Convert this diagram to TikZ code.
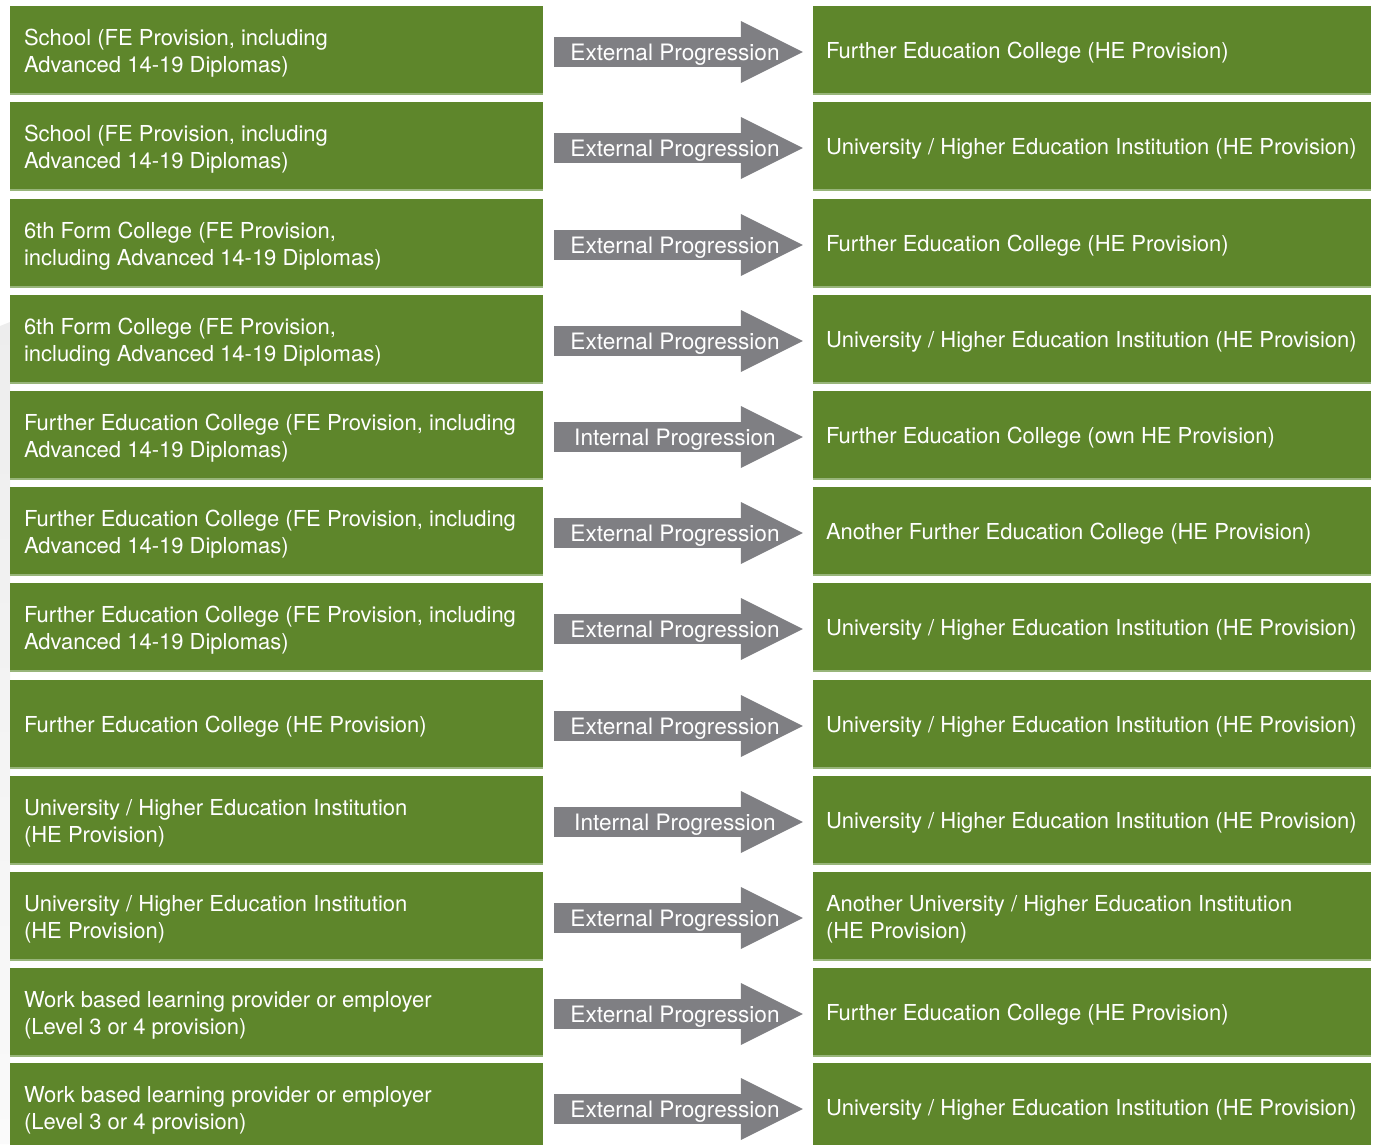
\documentclass[tikz,border=0pt]{standalone}
\usepackage{fontspec}
\setmainfont{TeX Gyre Heros}
\usetikzlibrary{arrows.meta}
\definecolor{boxgreen}{HTML}{5E862B}
\definecolor{boxedge}{HTML}{98B57A}
\definecolor{arrowgrey}{HTML}{7F7F83}
\hyphenpenalty=10000
\tikzset{box/.style={fill=boxgreen,text=white,minimum height=88pt,inner ysep=0pt,align=flush left,font=\fontsize{22}{26.7}\selectfont,text height=22.5pt,path picture={\draw[boxedge,line width=3pt] (path picture bounding box.south west) -- (path picture bounding box.south east);}}}
\tikzset{srcbox/.style={box,minimum width=533pt,text width=505pt,inner xsep=14pt}}
\tikzset{dstbox/.style={box,minimum width=558pt,text width=532pt,inner xsep=13pt}}
\tikzset{prog/.style={draw=arrowgrey,line width=30pt,shorten <=11pt,shorten >=10pt,transform canvas={yshift=-2pt},-{Triangle[length=62pt,width=62pt,line width=0pt]}}}
\tikzset{progtext/.style={text=white,font=\fontsize{22.6}{26}\selectfont,text height=16.2pt,text depth=0pt,inner sep=0pt,xshift=-3pt}}

\begin{document}
\begin{tikzpicture}[x=1pt,y=-1pt]
  \useasboundingbox (0,0) rectangle (1373,1144);
  \shade[top color=black!7,bottom color=black!2] (0,326) -- (10,322) -- (10,1144) -- (0,1144) -- cycle;
  \node[srcbox] (s1) at (276.5,50) {School (FE Provision, including\\Advanced 14-19 Diplomas)};
  \node[dstbox] (d1) at (1092,50) {Further Education College (HE Provision)};
  \draw[prog] (s1) -- node[progtext] {External Progression} (d1);
  \node[srcbox] (s2) at (276.5,146) {School (FE Provision, including\\Advanced 14-19 Diplomas)};
  \node[dstbox] (d2) at (1092,146) {University / Higher Education Institution (HE Provision)};
  \draw[prog] (s2) -- node[progtext] {External Progression} (d2);
  \node[srcbox] (s3) at (276.5,243) {6th Form College (FE Provision,\\including Advanced 14-19 Diplomas)};
  \node[dstbox] (d3) at (1092,243) {Further Education College (HE Provision)};
  \draw[prog] (s3) -- node[progtext] {External Progression} (d3);
  \node[srcbox] (s4) at (276.5,339) {6th Form College (FE Provision,\\including Advanced 14-19 Diplomas)};
  \node[dstbox] (d4) at (1092,339) {University / Higher Education Institution (HE Provision)};
  \draw[prog] (s4) -- node[progtext] {External Progression} (d4);
  \node[srcbox] (s5) at (276.5,435) {Further Education College (FE Provision, including\\Advanced 14-19 Diplomas)};
  \node[dstbox] (d5) at (1092,435) {Further Education College (own HE Provision)};
  \draw[prog] (s5) -- node[progtext] {Internal Progression} (d5);
  \node[srcbox] (s6) at (276.5,531) {Further Education College (FE Provision, including\\Advanced 14-19 Diplomas)};
  \node[dstbox] (d6) at (1092,531) {Another Further Education College (HE Provision)};
  \draw[prog] (s6) -- node[progtext] {External Progression} (d6);
  \node[srcbox] (s7) at (276.5,627) {Further Education College (FE Provision, including\\Advanced 14-19 Diplomas)};
  \node[dstbox] (d7) at (1092,627) {University / Higher Education Institution (HE Provision)};
  \draw[prog] (s7) -- node[progtext] {External Progression} (d7);
  \node[srcbox] (s8) at (276.5,724) {Further Education College (HE Provision)};
  \node[dstbox] (d8) at (1092,724) {University / Higher Education Institution (HE Provision)};
  \draw[prog] (s8) -- node[progtext] {External Progression} (d8);
  \node[srcbox] (s9) at (276.5,820) {University / Higher Education Institution\\(HE Provision)};
  \node[dstbox] (d9) at (1092,820) {University / Higher Education Institution (HE Provision)};
  \draw[prog] (s9) -- node[progtext] {Internal Progression} (d9);
  \node[srcbox] (s10) at (276.5,916) {University / Higher Education Institution\\(HE Provision)};
  \node[dstbox] (d10) at (1092,916) {Another University / Higher Education Institution\\(HE Provision)};
  \draw[prog] (s10) -- node[progtext] {External Progression} (d10);
  \node[srcbox] (s11) at (276.5,1012) {Work based learning provider or employer\\(Level 3 or 4 provision)};
  \node[dstbox] (d11) at (1092,1012) {Further Education College (HE Provision)};
  \draw[prog] (s11) -- node[progtext] {External Progression} (d11);
  \node[srcbox] (s12) at (276.5,1107) {Work based learning provider or employer\\(Level 3 or 4 provision)};
  \node[dstbox] (d12) at (1092,1107) {University / Higher Education Institution (HE Provision)};
  \draw[prog] (s12) -- node[progtext] {External Progression} (d12);
\end{tikzpicture}
\end{document}
